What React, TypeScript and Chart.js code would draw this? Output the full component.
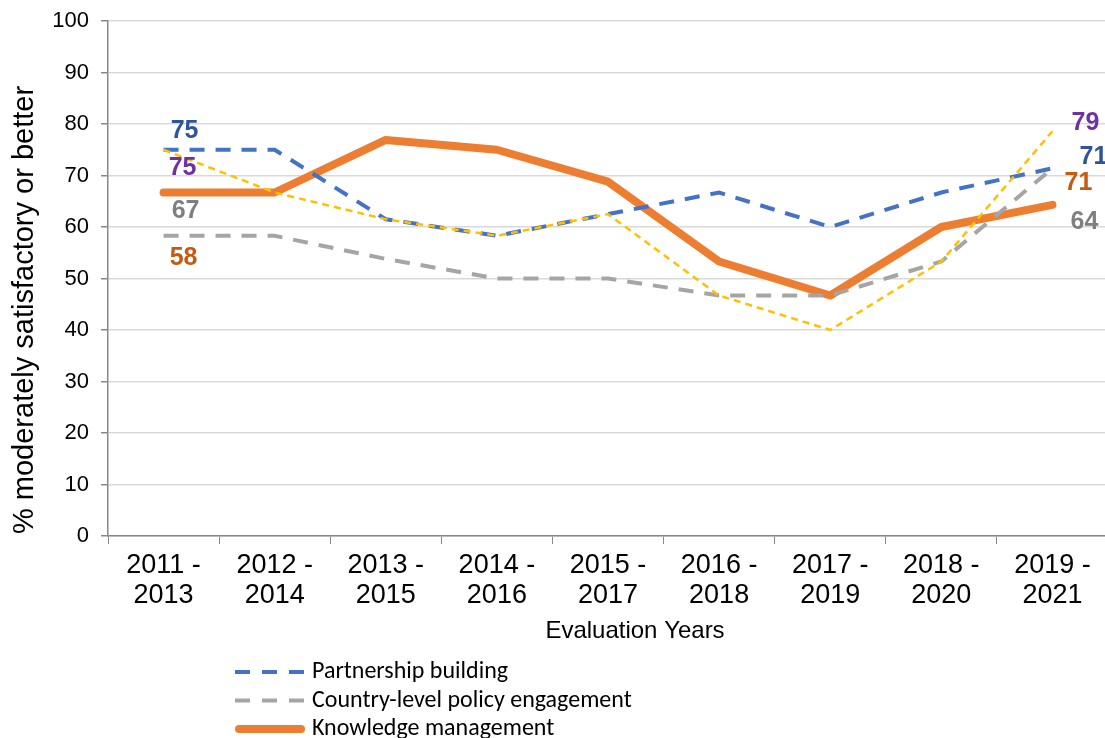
import React, { useEffect, useRef } from "react";
import { Chart, registerables } from "chart.js";

Chart.register(...registerables);

const categories: string[][] = [
  ["2011 -", "2013"],
  ["2012 -", "2014"],
  ["2013 -", "2015"],
  ["2014 -", "2016"],
  ["2015 -", "2017"],
  ["2016 -", "2018"],
  ["2017 -", "2019"],
  ["2018 -", "2020"],
  ["2019 -", "2021"],
];

const partnershipBuilding = [75, 75, 61.5, 58.3, 62.5, 66.7, 60, 66.7, 71.4];
const countryPolicy = [58.3, 58.3, 53.8, 50, 50, 46.7, 46.7, 53.3, 71.4];
const knowledgeManagement = [66.7, 66.7, 76.9, 75, 68.8, 53.3, 46.7, 60, 64.3];
const fourthSeries = [75, 66.7, 61.5, 58.3, 62.5, 46.7, 40, 53.3, 78.6];

const seriesNames = [
  "Partnership building",
  "Country-level policy engagement",
  "Knowledge management",
  "",
];

const yTitle = "% moderately satisfactory or better";
const xTitle = "Evaluation Years";

const FONT = "'Liberation Sans', Arial, sans-serif";
const LEGEND_FONT = "Calibri, Carlito, Lato, sans-serif";

const labelStyles = [
  { color: "#2F5597", first: [21, -19], last: [41, -11] },
  { color: "#C55A11", first: [20, 22], last: [26, 15] },
  { color: "#7F7F7F", first: [22, 19], last: [32, 17] },
  { color: "#7030A0", first: [19, 18], last: [33, -8] },
];

const legendItems = [
  { color: "#4472C4", width: 4, dash: [15, 12], cap: "butt" },
  { color: "#A5A5A5", width: 4, dash: [15, 12], cap: "butt" },
  { color: "#ED7D31", width: 8, dash: [], cap: "round" },
];

const overlayPlugin = {
  id: "overlay",
  afterDatasetsDraw(chart: any) {
    const ctx = chart.ctx;
    ctx.save();
    ctx.font = `bold 25px ${FONT}`;
    ctx.textAlign = "center";
    ctx.textBaseline = "middle";
    chart.data.datasets.forEach((ds: any, i: number) => {
      const meta = chart.getDatasetMeta(i);
      const st = labelStyles[i];
      const n = ds.data.length;
      [0, n - 1].forEach((idx, k) => {
        const el = meta.data[idx];
        const off = k === 0 ? st.first : st.last;
        ctx.fillStyle = st.color;
        ctx.fillText(String(Math.round(ds.data[idx])), el.x + off[0], el.y + off[1]);
      });
    });
    ctx.restore();
  },
  afterDraw(chart: any) {
    const ctx = chart.ctx;
    ctx.save();
    ctx.fillStyle = "#000";
    ctx.font = `29px ${FONT}`;
    ctx.textAlign = "center";
    ctx.textBaseline = "middle";
    ctx.translate(25, 310);
    ctx.rotate(-Math.PI / 2);
    ctx.fillText(yTitle, 0, 0);
    ctx.restore();

    ctx.save();
    ctx.fillStyle = "#000";
    ctx.font = `24px ${FONT}`;
    ctx.textAlign = "center";
    ctx.textBaseline = "middle";
    ctx.fillText(xTitle, 635, 631);
    ctx.restore();

    ctx.save();
    ctx.font = `24px ${LEGEND_FONT}`;
    ctx.textAlign = "left";
    ctx.textBaseline = "middle";
    legendItems.forEach((it, i) => {
      const y = 672 + i * 28.5;
      ctx.beginPath();
      ctx.strokeStyle = it.color;
      ctx.lineWidth = it.width;
      ctx.lineCap = it.cap;
      ctx.setLineDash(it.dash);
      const x0 = it.cap === "round" ? 239 : 235;
      const x1 = it.cap === "round" ? 301 : 305;
      ctx.moveTo(x0, y);
      ctx.lineTo(x1, y);
      ctx.stroke();
      ctx.setLineDash([]);
      ctx.fillStyle = "#000";
      ctx.fillText(seriesNames[i], 312, y);
    });
    ctx.restore();
  },
};

export default function App() {
  const ref = useRef<HTMLCanvasElement>(null);
  useEffect(() => {
    if (!ref.current) return;
    const chart = new Chart(ref.current, {
      type: "line",
      data: {
        labels: categories,
        datasets: [
          {
            label: seriesNames[0],
            data: partnershipBuilding,
            borderColor: "#4472C4",
            borderWidth: 4,
            borderDash: [15, 11],
            pointRadius: 0,
            tension: 0,
            order: 1,
          },
          {
            label: seriesNames[1],
            data: countryPolicy,
            borderColor: "#A5A5A5",
            borderWidth: 4,
            borderDash: [15, 11],
            pointRadius: 0,
            tension: 0,
            order: 2,
          },
          {
            label: seriesNames[2],
            data: knowledgeManagement,
            borderColor: "#ED7D31",
            borderWidth: 8,
            borderCapStyle: "round",
            borderJoinStyle: "round",
            pointRadius: 0,
            tension: 0,
            order: 3,
          },
          {
            label: seriesNames[3],
            data: fourthSeries,
            borderColor: "#FFC000",
            borderWidth: 2.5,
            borderDash: [7, 5],
            pointRadius: 0,
            tension: 0,
            order: 0,
          },
        ],
      },
      options: {
        responsive: false,
        animation: false,
        layout: { padding: { top: 21, left: 0, right: 7, bottom: 0 } },
        plugins: {
          legend: { display: false },
          tooltip: { enabled: false },
        },
        scales: {
          x: {
            offset: true,
            grid: {
              offset: true,
              drawOnChartArea: false,
              drawTicks: true,
              tickLength: 8,
              color: "#888",
            },
            border: { color: "#888", width: 1.5 },
            ticks: {
              color: "#000",
              font: { family: FONT, size: 27, lineHeight: 1.11 },
              padding: 7,
              maxRotation: 0,
              autoSkip: false,
            },
            afterFit(scale: any) {
              scale.height = 202;
            },
          },
          y: {
            min: 0,
            max: 100,
            ticks: {
              stepSize: 10,
              color: "#000",
              font: { family: FONT, size: 22 },
              padding: 12,
            },
            grid: {
              color: "#D9D9D9",
              lineWidth: 1.5,
              tickLength: 7,
              tickColor: "#888",
            },
            border: { color: "#888", width: 1.5 },
            afterFit(scale: any) {
              scale.width = 108;
              scale.paddingTop = 0;
              scale.paddingBottom = 0;
            },
          },
        },
      },
      plugins: [overlayPlugin],
    });
    return () => chart.destroy();
  }, []);

  return (
    <div
      style={{
        position: "absolute",
        left: 0,
        top: 0,
        width: 1105,
        height: 738,
        overflow: "hidden",
        background: "#fff",
      }}
    >
      <canvas ref={ref} width={1115} height={738} style={{ display: "block" }} />
    </div>
  );
}
